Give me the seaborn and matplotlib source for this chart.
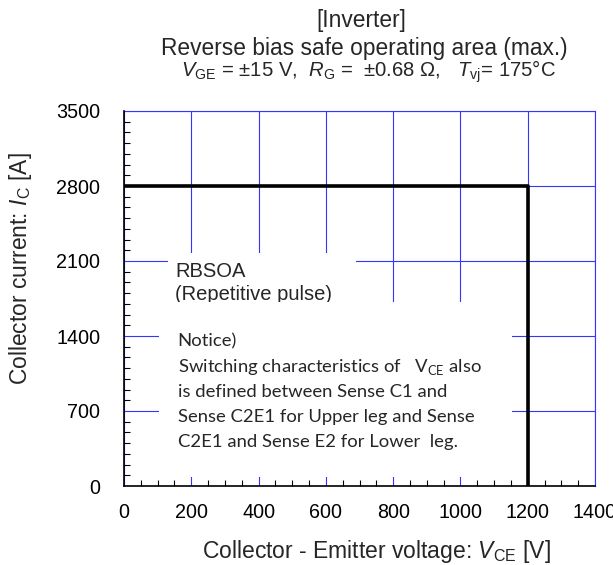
import numpy as np
import pandas as pd
import matplotlib
matplotlib.use("Agg")
import matplotlib.pyplot as plt
import seaborn as sns
from matplotlib.patches import Rectangle
from matplotlib.ticker import MultipleLocator

# ---- data ----
vce = [0, 1200, 1200]          # V
ic = [2800, 2800, 0]           # A
x_ticks = [0, 200, 400, 600, 800, 1000, 1200, 1400]
y_ticks = [0, 700, 1400, 2100, 2800, 3500]

sns.set_theme(style="white")
plt.rcParams["font.family"] = ["Liberation Sans", "DejaVu Sans"]
plt.rcParams["mathtext.fontset"] = "custom"
plt.rcParams["mathtext.rm"] = "Liberation Sans"
plt.rcParams["mathtext.it"] = "Liberation Sans:italic"
plt.rcParams["mathtext.sf"] = "Lato"

W, H = 613, 565
fig = plt.figure(figsize=(W / 100, H / 100), dpi=100)
renderer = fig.canvas.get_renderer()
L, R, T, B = 124, 595, 111, 486
ax = fig.add_axes([L / W, 1 - B / H, (R - L) / W, (B - T) / H])


def fit(t, target, horizontal=True):
    for _ in range(3):
        bb = t.get_window_extent(renderer)
        w = bb.width if horizontal else bb.height
        t.set_fontsize(t.get_fontsize() * target / w)
    return t.get_fontsize()


def fit_size(s, target, **kw):
    t = fig.text(0, 0, s, fontsize=12, **kw)
    fs = fit(t, target)
    t.remove()
    return fs


df = pd.DataFrame({"VCE": vce, "IC": ic})
sns.lineplot(data=df, x="VCE", y="IC", sort=False, estimator=None,
             color="black", linewidth=2.6, ax=ax, zorder=5)

tick_fs = fit_size("3500", 44)

ax.set_xlim(0, 1400)
ax.set_ylim(0, 3500)
ax.set_xticks(x_ticks)
ax.set_yticks(y_ticks)
ax.xaxis.set_minor_locator(MultipleLocator(50))
ax.yaxis.set_minor_locator(MultipleLocator(100))
ax.grid(True, which="major", color="#3535ff", linewidth=0.8, zorder=1)
ax.set_axisbelow(True)
ax.tick_params(which="major", length=0, labelsize=tick_fs, colors="black")
ax.tick_params(axis="x", which="major", pad=12)
ax.tick_params(axis="y", which="major", pad=17)
ax.tick_params(which="minor", direction="in", length=4, width=0.8,
               color="black", bottom=True, left=True)
for s in ["top", "right"]:
    ax.spines[s].set_color("#3535ff")
    ax.spines[s].set_linewidth(0.8)
for s in ["left", "bottom"]:
    ax.spines[s].set_color("black")
    ax.spines[s].set_linewidth(1.2)
    ax.spines[s].set_zorder(6)

xl = ax.set_xlabel(r"Collector - Emitter voltage: $V$$_{\mathrm{CE}}$ [V]", fontsize=14)
yl = ax.set_ylabel(r"Collector current: $I$$_{\mathrm{C}}$ [A]", fontsize=14)
fit(xl, 348)
fit(yl, 232, horizontal=False)
xl.set_va("baseline")
yl.set_va("center")
ax.xaxis.set_label_coords((376 - L) / (R - L), (B - 558) / (B - T))
ax.yaxis.set_label_coords((21 - L) / (R - L), (B - 269) / (B - T))


def px2ax(x, y):
    return (x - L) / (R - L), (B - y) / (B - T)


# white boxes hiding grid
x0, y0 = px2ax(168, 302)
x1, y1 = px2ax(356, 253)
ax.add_patch(Rectangle((x0, y0), x1 - x0, y1 - y0, transform=ax.transAxes,
                       facecolor="white", edgecolor="none", zorder=2))
rb_fs = fit_size("(Repetitive pulse)", 156)
tx, ty = px2ax(175, 271.7)
ax.text(tx, ty, "RBSOA", transform=ax.transAxes, fontsize=rb_fs, va="center", ha="left", zorder=3)
tx, ty = px2ax(175, 295)
ax.text(tx, ty, "(Repetitive pulse)", transform=ax.transAxes, fontsize=rb_fs, va="center", ha="left", zorder=3)

x0, y0 = px2ax(159, 477)
x1, y1 = px2ax(512, 302)
ax.add_patch(Rectangle((x0, y0), x1 - x0, y1 - y0, transform=ax.transAxes,
                       facecolor="white", edgecolor="none", zorder=4))
notice = ["Notice)",
          r"Switching characteristics of   $\mathsf{V}_{\mathsf{CE}}$ also",
          "is defined between Sense C1 and",
          "Sense C2E1 for Upper leg and Sense",
          "C2E1 and Sense E2 for Lower  leg."]
nt_fs = fit_size(notice[3], 297, family="Lato")
for i, line in enumerate(notice):
    tx, ty = px2ax(177.7, 341.7 + 25 * i)
    ax.text(tx, ty, line, transform=ax.transAxes, fontsize=nt_fs, family="Lato",
            va="center", ha="left", zorder=5)

t1 = fig.text(361.5 / W, 1 - 20.7 / H, "[Inverter]", ha="center", va="center", fontsize=14)
t2 = fig.text(364.5 / W, 1 - 48 / H, "Reverse bias safe operating area (max.)",
              ha="center", va="center", fontsize=14)
t3 = fig.text(368.5 / W, 1 - 72 / H,
              r"$V$$_{\mathrm{GE}}$ = ±15 V,  $R$$_{\mathrm{G}}$ =  ±0.68 Ω,   $T$$_{\mathrm{vj}}$= 175°C",
              ha="center", va="center", fontsize=12)
fs2 = fit(t2, 407)
t1.set_fontsize(fs2)
fit(t3, 373)

fig.savefig("out.png", dpi=100)
